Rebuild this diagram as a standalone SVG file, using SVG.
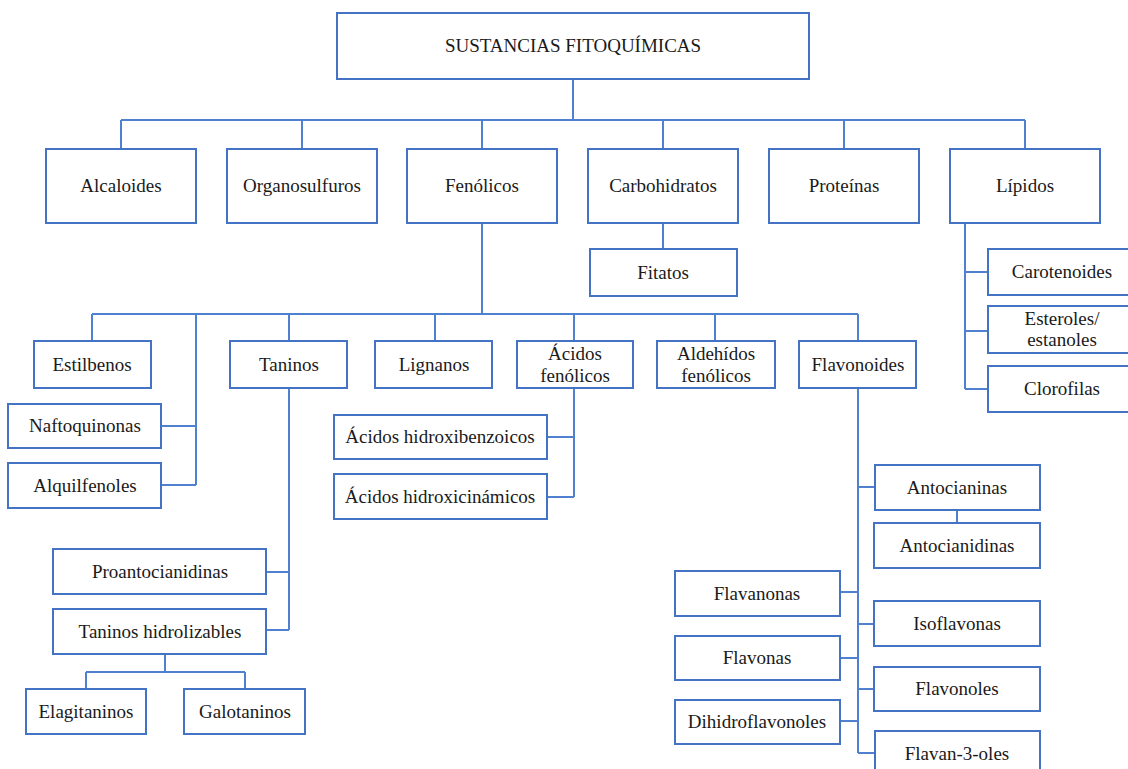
<svg xmlns="http://www.w3.org/2000/svg" width="1128" height="769" viewBox="0 0 1128 769">
<style>
.b{fill:#fff;stroke:#4472C4;stroke-width:2}
.c{fill:none;stroke:#5080D0;stroke-width:2}
.t text{font-size:19px;fill:#1a1a1a;text-anchor:middle}
</style>
<rect width="1128" height="769" fill="#fff"/>
<g id="connectors" class="c">
<path d="M573,79V120M121,120H1025M121,120V149M302,120V149M482,120V149M663,120V149M844,120V149M1025,120V149"/>
<path d="M663,223V249"/>
<path d="M965,223V389M965,272H988M965,331H988M965,389H988"/>
<path d="M482,223V314M92,314H858M92,314V341M289,314V341M435,314V341M574,314V341M715,314V341M858,314V341"/>
<path d="M196,314V485M161,426H196M161,485H196"/>
<path d="M574,388V497M547,437H574M547,497H574"/>
<path d="M289,388V630M266,572H289M266,630H289"/>
<path d="M165,654V672M86,672H245M86,672V689M245,672V689"/>
<path d="M858,388V753M858,487H875M957,510V523M840,592H858M858,624H874M840,658H858M858,689H874M840,721H858M858,753H875"/>
</g>
<g class="t" font-family="'Liberation Serif', 'Times New Roman', 'DejaVu Serif', serif">
<g id="root"><rect class="b" x="337" y="13" width="472" height="66"/><text x="573" y="52">SUSTANCIAS FITOQUÍMICAS</text></g>
<g id="alcaloides"><rect class="b" x="46" y="149" width="150" height="74"/><text x="121" y="192">Alcaloides</text></g>
<g id="organosulfuros"><rect class="b" x="227" y="149" width="150" height="74"/><text x="302" y="192">Organosulfuros</text></g>
<g id="fenolicos"><rect class="b" x="407" y="149" width="150" height="74"/><text x="482" y="192">Fenólicos</text></g>
<g id="carbohidratos"><rect class="b" x="588" y="149" width="150" height="74"/><text x="663" y="192">Carbohidratos</text></g>
<g id="proteinas"><rect class="b" x="769" y="149" width="150" height="74"/><text x="844" y="192">Proteínas</text></g>
<g id="lipidos"><rect class="b" x="950" y="149" width="150" height="74"/><text x="1025" y="192">Lípidos</text></g>
<g id="fitatos"><rect class="b" x="590" y="249" width="147" height="47"/><text x="663" y="279">Fitatos</text></g>
<g id="carotenoides"><rect class="b" x="988" y="249" width="148" height="46"/><text x="1062" y="278">Carotenoides</text></g>
<g id="esteroles"><rect class="b" x="988" y="306" width="148" height="47"/><text x="1062" y="325">Esteroles/</text><text x="1062" y="346">estanoles</text></g>
<g id="clorofilas"><rect class="b" x="988" y="366" width="148" height="46"/><text x="1062" y="395">Clorofilas</text></g>
<g id="estilbenos"><rect class="b" x="34" y="341" width="117" height="47"/><text x="92" y="371">Estilbenos</text></g>
<g id="taninos"><rect class="b" x="230" y="341" width="117" height="47"/><text x="289" y="371">Taninos</text></g>
<g id="lignanos"><rect class="b" x="375" y="341" width="117" height="47"/><text x="434" y="371">Lignanos</text></g>
<g id="acidos-fenolicos"><rect class="b" x="517" y="341" width="116" height="47"/><text x="575" y="360">Ácidos</text><text x="575" y="382">fenólicos</text></g>
<g id="aldehidos-fenolicos"><rect class="b" x="657" y="341" width="118" height="47"/><text x="716" y="360">Aldehídos</text><text x="716" y="382">fenólicos</text></g>
<g id="flavonoides"><rect class="b" x="799" y="341" width="117" height="47"/><text x="858" y="371">Flavonoides</text></g>
<g id="naftoquinonas"><rect class="b" x="8" y="404" width="153" height="44"/><text x="85" y="432">Naftoquinonas</text></g>
<g id="alquilfenoles"><rect class="b" x="8" y="463" width="153" height="45"/><text x="85" y="492">Alquilfenoles</text></g>
<g id="hidroxibenzoicos"><rect class="b" x="334" y="415" width="213" height="44"/><text x="440" y="443">Ácidos hidroxibenzoicos</text></g>
<g id="hidroxicinamicos"><rect class="b" x="334" y="474" width="213" height="45"/><text x="440" y="503">Ácidos hidroxicinámicos</text></g>
<g id="proantocianidinas"><rect class="b" x="53" y="549" width="213" height="45"/><text x="160" y="578">Proantocianidinas</text></g>
<g id="taninos-hidrolizables"><rect class="b" x="53" y="609" width="213" height="45"/><text x="160" y="638">Taninos hidrolizables</text></g>
<g id="elagitaninos"><rect class="b" x="26" y="689" width="120" height="45"/><text x="86" y="718">Elagitaninos</text></g>
<g id="galotaninos"><rect class="b" x="184" y="689" width="121" height="45"/><text x="245" y="718">Galotaninos</text></g>
<g id="antocianinas"><rect class="b" x="875" y="465" width="165" height="45"/><text x="957" y="494">Antocianinas</text></g>
<g id="antocianidinas"><rect class="b" x="874" y="523" width="166" height="45"/><text x="957" y="552">Antocianidinas</text></g>
<g id="flavanonas"><rect class="b" x="675" y="571" width="165" height="45"/><text x="757" y="600">Flavanonas</text></g>
<g id="isoflavonas"><rect class="b" x="874" y="601" width="166" height="45"/><text x="957" y="630">Isoflavonas</text></g>
<g id="flavonas"><rect class="b" x="675" y="636" width="165" height="44"/><text x="757" y="664">Flavonas</text></g>
<g id="flavonoles"><rect class="b" x="874" y="667" width="166" height="44"/><text x="957" y="695">Flavonoles</text></g>
<g id="dihidroflavonoles"><rect class="b" x="675" y="700" width="165" height="44"/><text x="757" y="728">Dihidroflavonoles</text></g>
<g id="flavan-3-oles"><rect class="b" x="875" y="731" width="165" height="45"/><text x="957" y="760">Flavan-3-oles</text></g>
</g>
</svg>
